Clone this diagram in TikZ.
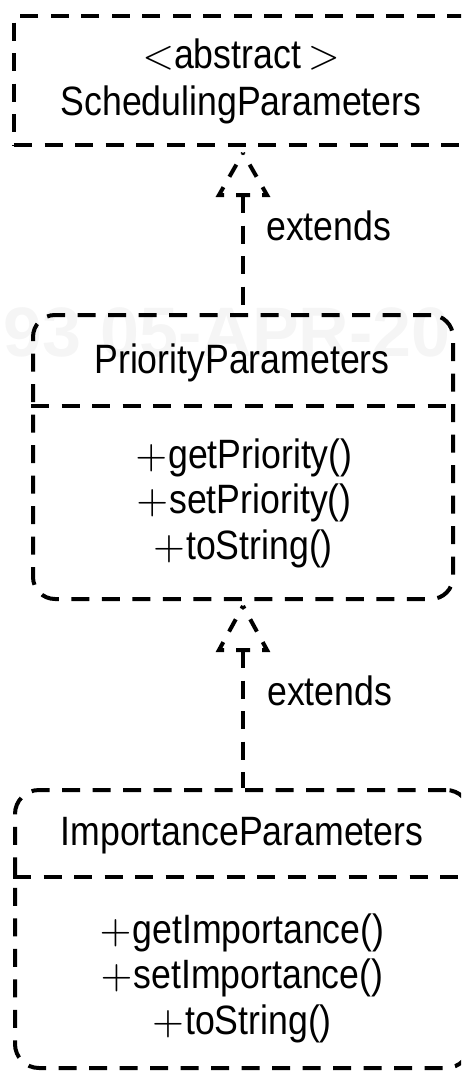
\documentclass[tikz,border=0pt]{standalone}
\usepackage{graphicx}
\usepackage{fontspec}
\setmainfont{Liberation Sans}[FakeStretch=0.87]
\newfontfamily\wmfont{Liberation Sans}
\usetikzlibrary{calc}
\tikzset{
  dsh/.style={line width=4pt, dash pattern=on 18pt off 12.5pt},
  classbox/.style={dsh, draw, rectangle, inner sep=0pt},
  lbl/.style={font=\fontsize{41}{47}\selectfont, inner sep=0pt, anchor=base},
  wmark/.style={font=\wmfont\bfseries\fontsize{70}{70}\selectfont, text=black!4, inner sep=0pt, anchor=base west},
  headdash/.style={line width=4pt, dash pattern=on 14pt off 12pt, dash phase=7pt, line cap=butt}
}
% math-style symbols set at 10pt and enlarged to the label size
\newcommand{\bigmath}[1]{{\fontsize{10}{10}\selectfont\scalebox{4.1}{$#1$}}}
\newcommand{\pl}{\bigmath{+}\kern1pt}
\begin{document}
\begin{tikzpicture}[x=1pt,y=-1pt]
\useasboundingbox (0,0) rectangle (461,1072);
\clip (0,0) rectangle (461,1072);

% faint stamp in the background
\node[wmark] (stamp) at (3,356) {93 05-APR-20};

% class boxes
\node[classbox, minimum width=466pt, minimum height=129pt] (sched) at (247,80.5) {};
\node[classbox, rounded corners=22pt, minimum width=420pt, minimum height=284pt] (prio) at (243,457) {};
\node[classbox, rounded corners=24pt, minimum width=455pt, minimum height=278pt] (imp) at (242.5,929) {};

% compartment dividers
\draw[dsh] ([yshift=51pt]prio.west) -- ([yshift=51pt]prio.east);
\draw[dsh] ([yshift=52pt]imp.west) -- ([yshift=52pt]imp.east);

% texts
\node[lbl] (absname) at (241,68) {\bigmath{<}abstract\,\bigmath{>}};
\node[lbl] (schedname) at (241,115) {SchedulingParameters};

\node[lbl] (prioname) at (242,373) {PriorityParameters};
\node[lbl] (pm1) at (244,468) {\pl getPriority()};
\node[lbl] (pm2) at (244,513) {\pl setPriority()};
\node[lbl] (pm3) at (243,559) {\pl toString()};

\node[lbl] (impname) at (242,845) {ImportanceParameters};
\node[lbl] (im1) at (242,943) {\pl getImportance()};
\node[lbl] (im2) at (242,988) {\pl setImportance()};
\node[lbl] (im3) at (242,1034) {\pl toString()};

% generalisation: PriorityParameters extends SchedulingParameters
\coordinate (tip1) at ([yshift=-6pt]prio.north |- sched.south);
\coordinate (base1) at ($(tip1)+(0,42)$);
\draw[headdash] (base1) -- ++(-24,0) -- (tip1);
\draw[headdash] (base1) -- ++(24,0) -- (tip1);
\draw[dsh] (base1) -- (prio.north);
\node[lbl, anchor=base west] (ext1) at (266,240) {extends};

% generalisation: ImportanceParameters extends PriorityParameters
\coordinate (tip2) at ([yshift=-5pt]prio.south);
\coordinate (base2) at ($(tip2)+(0,44)$);
\draw[headdash] (base2) -- ++(-24,0) -- (tip2);
\draw[headdash] (base2) -- ++(24,0) -- (tip2);
\draw[dsh] (base2) -- (base2 |- imp.north);
\node[lbl, anchor=base west] (ext2) at (267,705) {extends};
\end{tikzpicture}
\end{document}
